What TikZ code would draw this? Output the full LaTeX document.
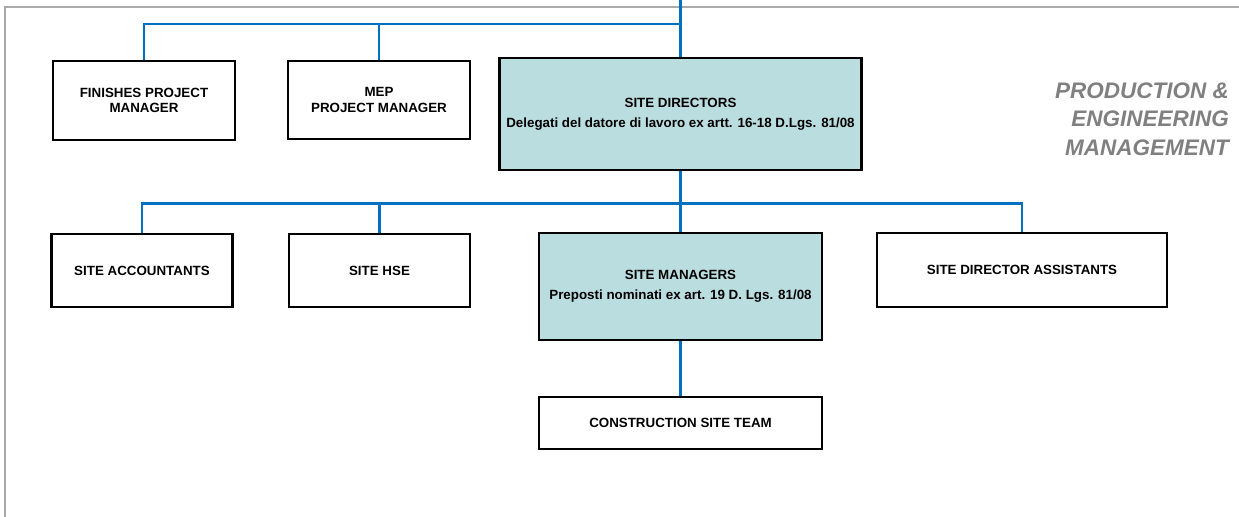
\documentclass[tikz,border=0pt]{standalone}
\usepackage{fontspec}
\setmainfont{Liberation Sans}
\definecolor{linkblue}{RGB}{0,112,192}
\definecolor{keyfill}{RGB}{186,221,224}
\definecolor{framegray}{RGB}{170,170,170}
\definecolor{titlegray}{RGB}{128,128,128}

\begin{document}
\begin{tikzpicture}[
    unit/.style={draw, line width=1.2pt, align=center, inner sep=0pt, fill=white,
      font=\fontsize{7.6}{8.6}\selectfont\bfseries},
    keyunit/.style={unit, fill=keyfill},
    link/.style={linkblue, line width=1.3pt}
  ]
    \useasboundingbox (0,0) rectangle (24.78,-10.34);
    % Frame
    \draw[framegray, line width=1.2pt] (0.1,-10.34) -- (0.1,-0.14) -- (24.78,-0.14);
    % Title
    \node[anchor=east, align=right, text=titlegray, font=\fontsize{12.8}{16.2}\selectfont\bfseries\itshape]
      (title) at (24.70,-2.38) {PRODUCTION \&\\ENGINEERING\\MANAGEMENT};
    % Top row
    \node[unit, minimum width=3.64cm, minimum height=1.58cm] (fin) at (2.88,-2.01) {FINISHES PROJECT\\MANAGER};
    \node[unit, minimum width=3.64cm, minimum height=1.56cm] (mep) at (7.58,-2.00) {MEP\\PROJECT MANAGER};
    \node[keyunit, minimum width=7.24cm, minimum height=2.24cm] (sd) at (13.61,-2.28)
      {SITE DIRECTORS\\[3pt]Delegati del datore di lavoro ex artt. 16-18 D.Lgs. 81/08};
    % Second row
    \node[unit, minimum width=3.62cm, minimum height=1.46cm] (acc) at (2.84,-5.41) {SITE ACCOUNTANTS};
    \node[unit, minimum width=3.62cm, minimum height=1.46cm] (hse) at (7.59,-5.41) {SITE HSE};
    \node[keyunit, minimum width=5.66cm, minimum height=2.15cm] (sm) at (13.61,-5.73)
      {SITE MANAGERS\\[3pt]Preposti nominati ex art. 19 D. Lgs. 81/08};
    \node[unit, minimum width=5.80cm, minimum height=1.47cm] (asst) at (20.44,-5.40) {SITE DIRECTOR ASSISTANTS};
    % Bottom
    \node[unit, minimum width=5.66cm, minimum height=1.05cm] (team) at (13.61,-8.46) {CONSTRUCTION SITE TEAM};
    % Connectors
    \coordinate (top) at (13.61,0);
    \coordinate (bus1) at (13.61,-0.48);
    \coordinate (bus2) at (13.61,-4.07);
    \draw[link] (sd.north) -- (top);
    \draw[link] (fin.north) |- (bus1);
    \draw[link] (mep.north) -- (mep.north |- bus1);
    \draw[link] (sd.south) -- (sm.north);
    \draw[link] (acc.north) |- (bus2) -| (asst.north);
    \draw[link] (hse.north) -- (hse.north |- bus2);
    \draw[link] (sm.south) -- (team.north);
\end{tikzpicture}
\end{document}
